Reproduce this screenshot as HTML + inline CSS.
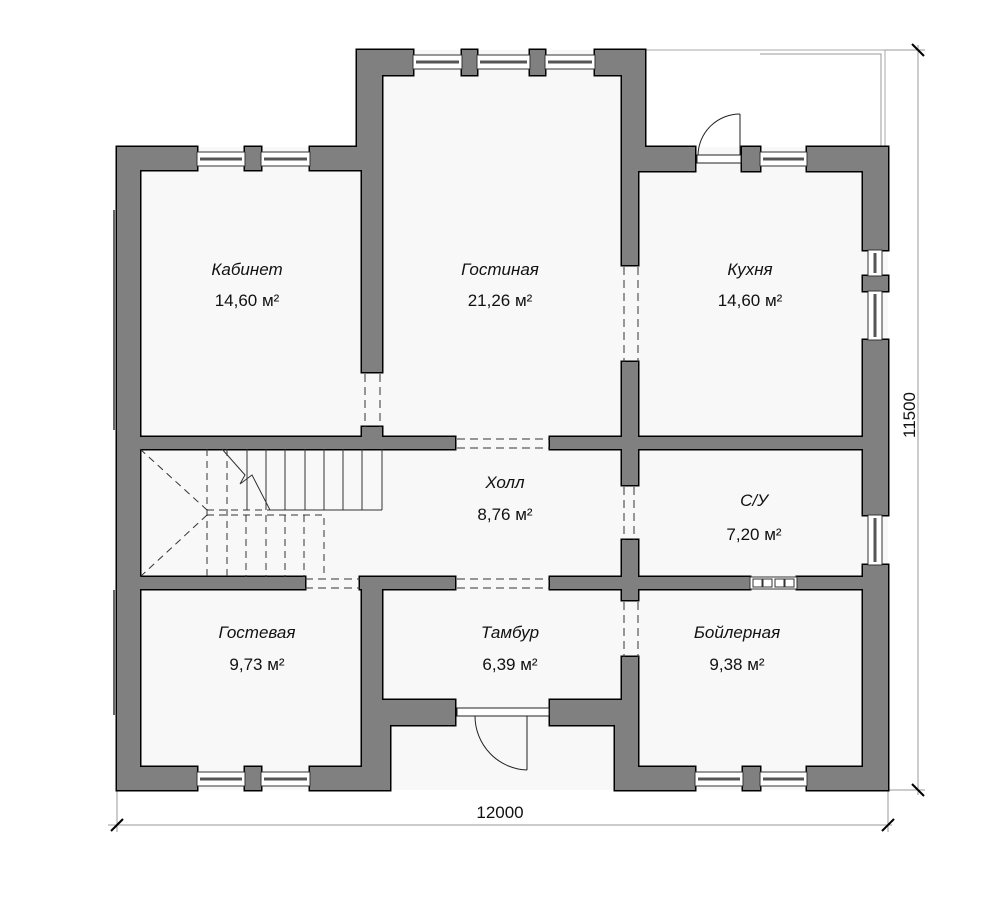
<!DOCTYPE html>
<html><head><meta charset="utf-8"><style>
html,body{margin:0;padding:0;background:#fff}
svg{display:block}
text{font-family:"Liberation Sans",sans-serif;fill:#111}
.l{font-style:italic;font-size:17px}
.a{font-size:17px}
</style></head><body>
<svg width="1000" height="902" viewBox="0 0 1000 902" xmlns="http://www.w3.org/2000/svg">
<defs>
<g id="walls">
<rect x="117" y="147" width="23" height="643"/>
<rect x="117" y="147" width="80" height="23"/>
<rect x="245" y="147" width="16" height="23"/>
<polygon points="310,147 357,147 357,50 413,50 413,75 382,75 382,372 362,372 362,170 310,170"/>
<rect x="462" y="50" width="15" height="25"/>
<rect x="530" y="50" width="15" height="25"/>
<polygon points="595,50 645,50 645,147 695,147 695,171 638,171 638,265 622,265 622,75 595,75"/>
<rect x="742" y="147" width="18" height="24"/>
<polygon points="807,147 888,147 888,250 863,250 863,171 807,171"/>
<rect x="863" y="276" width="25" height="15"/>
<rect x="863" y="340" width="25" height="175"/>
<polygon points="863,565 888,565 888,790 807,790 807,767 863,767"/>
<rect x="743" y="767" width="17" height="23"/>
<polygon points="615,790 695,790 695,767 638,767 638,657 622,657 622,700 550,700 550,725 615,725"/>
<rect x="362" y="427" width="20" height="22"/>
<rect x="138" y="437" width="317" height="12"/>
<rect x="550" y="437" width="315" height="12"/>
<rect x="622" y="362" width="16" height="123"/>
<rect x="622" y="540" width="16" height="60"/>
<rect x="138" y="577" width="167" height="12"/>
<rect x="360" y="577" width="95" height="12"/>
<rect x="550" y="577" width="200" height="12"/>
<rect x="797" y="577" width="68" height="12"/>
<rect x="362" y="577" width="20" height="123"/>
<polygon points="382,700 455,700 455,725 390,725 390,790 362,790 362,700"/>
<rect x="117" y="767" width="80" height="23"/>
<rect x="245" y="767" width="16" height="23"/>
<rect x="310" y="767" width="80" height="23"/>
</g>
</defs>
<rect width="1000" height="902" fill="#fff"/>
<polygon points="117,147 357,147 357,50 645,50 645,147 888,147 888,790 117,790" fill="#f8f8f8"/>
<polyline points="645,50 885,50 885,147" fill="none" stroke="#aaa" stroke-width="1"/>
<polyline points="760,54 881,54 881,147" fill="none" stroke="#999" stroke-width="1"/>
<line x1="114" y1="210" x2="114" y2="430" stroke="#333" stroke-width="1.5"/>
<line x1="114" y1="590" x2="114" y2="715" stroke="#333" stroke-width="1.5"/>
<g stroke="#999" stroke-width="1" fill="none">
<line x1="108" y1="825" x2="892" y2="825"/>
<line x1="117" y1="790" x2="117" y2="832"/>
<line x1="888" y1="790" x2="888" y2="832"/>
<line x1="918" y1="45" x2="918" y2="795"/>
<line x1="885" y1="50" x2="925" y2="50"/>
<line x1="888" y1="790" x2="925" y2="790"/>
</g>
<g stroke="#000" stroke-width="2">
<line x1="111" y1="831" x2="123" y2="819"/>
<line x1="882" y1="831" x2="894" y2="819"/>
<line x1="912" y1="44" x2="924" y2="56"/>
<line x1="912" y1="784" x2="924" y2="796"/>
</g>
<text x="500" y="818" text-anchor="middle" font-size="17">12000</text>
<text x="0" y="0" font-size="17" text-anchor="middle" transform="translate(915,415) rotate(-90)">11500</text>
<!-- walls: stroked outline, then fill on top to hide seams -->
<use href="#walls" fill="#808080" stroke="#000" stroke-width="3"/>
<use href="#walls" fill="#808080" stroke="none"/>
<!-- vent -->
<rect x="750" y="577" width="47" height="12" fill="#fff" stroke="#333"/>
<g fill="none" stroke="#333" stroke-width="1">
<rect x="753" y="579" width="9" height="8"/><rect x="763" y="579" width="9" height="8"/>
<rect x="775" y="579" width="9" height="8"/><rect x="785" y="579" width="9" height="8"/>
</g>
<g stroke="#333" stroke-width="1" fill="#fff">
<rect x="197" y="152" width="48" height="14"/><rect x="261" y="152" width="49" height="14"/>
<rect x="413" y="55" width="49" height="14"/><rect x="477" y="55" width="53" height="14"/><rect x="545" y="55" width="50" height="14"/>
<rect x="760" y="152" width="47" height="14"/>
<rect x="868" y="250" width="14" height="26"/><rect x="868" y="291" width="14" height="49"/>
<rect x="868" y="515" width="14" height="50"/>
<rect x="197" y="772" width="48" height="14"/><rect x="261" y="772" width="49" height="14"/>
<rect x="695" y="772" width="48" height="14"/><rect x="760" y="772" width="47" height="14"/>
</g>
<g stroke="#555" stroke-width="3">
<line x1="200" y1="159" x2="242" y2="159"/><line x1="264" y1="159" x2="307" y2="159"/>
<line x1="416" y1="62" x2="459" y2="62"/><line x1="480" y1="62" x2="527" y2="62"/><line x1="548" y1="62" x2="592" y2="62"/>
<line x1="763" y1="159" x2="804" y2="159"/>
<line x1="875" y1="253" x2="875" y2="273"/><line x1="875" y1="294" x2="875" y2="337"/>
<line x1="875" y1="518" x2="875" y2="562"/>
<line x1="200" y1="779" x2="242" y2="779"/><line x1="264" y1="779" x2="307" y2="779"/>
<line x1="698" y1="779" x2="740" y2="779"/><line x1="763" y1="779" x2="804" y2="779"/>
</g>
<g fill="none" stroke="#222" stroke-width="1">
<rect x="697" y="155" width="44" height="8" fill="#fff"/>
<line x1="740" y1="155" x2="740" y2="114"/>
<path d="M698,155 A42,42 0 0 1 740,114"/>
<rect x="457" y="708" width="92" height="8" fill="#fff"/>
<line x1="527" y1="716" x2="527" y2="770"/>
<path d="M475,716 A54,54 0 0 0 527,770"/>
</g>
<g stroke="#333" stroke-width="1" stroke-dasharray="8,5" fill="none">
<line x1="365" y1="374" x2="365" y2="427"/><line x1="380" y1="374" x2="380" y2="427"/>
<line x1="624" y1="267" x2="624" y2="362"/><line x1="638" y1="267" x2="638" y2="362"/>
<line x1="624" y1="487" x2="624" y2="540"/><line x1="634" y1="487" x2="634" y2="540"/>
<line x1="624" y1="602" x2="624" y2="657"/><line x1="638" y1="602" x2="638" y2="657"/>
<line x1="457" y1="439" x2="550" y2="439"/><line x1="457" y1="448" x2="550" y2="448"/>
<line x1="305" y1="579" x2="360" y2="579"/><line x1="305" y1="588" x2="360" y2="588"/>
<line x1="457" y1="579" x2="550" y2="579"/><line x1="457" y1="588" x2="550" y2="588"/>
</g>
<g stroke="#333" stroke-width="1" fill="none">
<line x1="247" y1="449" x2="247" y2="510"/><line x1="266" y1="449" x2="266" y2="510"/>
<line x1="285" y1="449" x2="285" y2="510"/><line x1="305" y1="449" x2="305" y2="510"/>
<line x1="324" y1="449" x2="324" y2="510"/><line x1="343" y1="449" x2="343" y2="510"/>
<line x1="362" y1="449" x2="362" y2="510"/><line x1="382" y1="449" x2="382" y2="510"/>
<line x1="270" y1="510" x2="382" y2="510"/>
<polyline points="222,449 245,475 240,484 252,475 270,510"/>
</g>
<g stroke="#333" stroke-width="1" stroke-dasharray="7,5" fill="none">
<line x1="207" y1="449" x2="207" y2="577"/><line x1="227" y1="449" x2="227" y2="577"/>
<line x1="207" y1="510" x2="270" y2="510"/>
<line x1="140" y1="449" x2="207" y2="510"/>
<line x1="207" y1="515" x2="140" y2="577"/>
<polyline points="207,515 324,515 324,577"/>
<line x1="246" y1="515" x2="246" y2="577"/><line x1="266" y1="515" x2="266" y2="577"/>
<line x1="285" y1="515" x2="285" y2="577"/><line x1="304" y1="515" x2="304" y2="577"/>
</g>
<g text-anchor="middle">
<text class="l" x="247" y="275">Кабинет</text><text class="a" x="247" y="306">14,60 м²</text>
<text class="l" x="500" y="275">Гостиная</text><text class="a" x="500" y="306">21,26 м²</text>
<text class="l" x="750" y="275">Кухня</text><text class="a" x="750" y="306">14,60 м²</text>
<text class="l" x="505" y="488">Холл</text><text class="a" x="505" y="520">8,76 м²</text>
<text class="l" x="754" y="506">С/У</text><text class="a" x="754" y="540">7,20 м²</text>
<text class="l" x="257" y="638">Гостевая</text><text class="a" x="257" y="670">9,73 м²</text>
<text class="l" x="510" y="638">Тамбур</text><text class="a" x="510" y="670">6,39 м²</text>
<text class="l" x="737" y="638">Бойлерная</text><text class="a" x="737" y="670">9,38 м²</text>
</g>
</svg>
</body></html>
